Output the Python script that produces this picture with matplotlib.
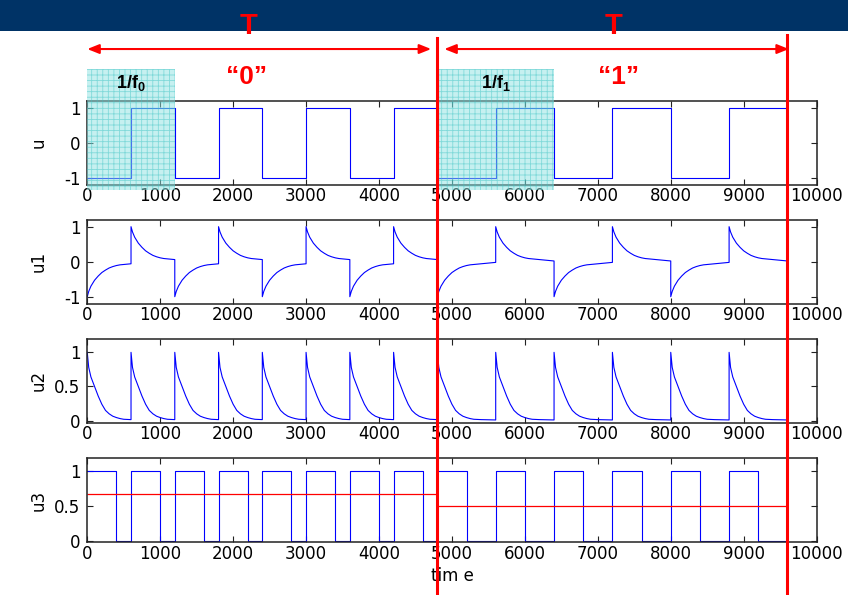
"""FSK bit encoding: square wave u and derived signals u1, u2, u3."""

import matplotlib

matplotlib.use("Agg")
import matplotlib.pyplot as plt
import numpy as np
from matplotlib.lines import Line2D
from matplotlib.patches import Rectangle
from matplotlib.transforms import blended_transform_factory

# square wave u: edge times and level after each edge
edges = [0, 600, 1200, 1800, 2400, 3000, 3600, 4200, 4800, 5600, 6400, 7200, 8000, 8800]
levels = [-1, 1, -1, 1, -1, 1, -1, 1, -1, 1, -1, 1, -1, 1]
t_end = 9600

# decay shape after each edge
decay_dt = [0, 20, 50, 100, 150, 200, 250, 300, 350, 400, 450, 500, 600, 700, 800]
u1_decay = [1.0, 0.85, 0.70, 0.53, 0.41, 0.31, 0.24, 0.18, 0.14, 0.11, 0.09, 0.08, 0.06, 0.04, 0.02]
u2_decay = [1.0, 0.78, 0.64, 0.50, 0.36, 0.24, 0.15, 0.10, 0.065, 0.045, 0.03, 0.02, 0.015, 0.012, 0.01]

# pulse train u3 (steps) and its mean per bit
u3_t = [0, 400, 600, 1000, 1200, 1600, 1800, 2200, 2400, 2800, 3000, 3400, 3600, 4000,
        4200, 4600, 4800, 5200, 5600, 6000, 6400, 6800, 7200, 7600, 8000, 8400, 8800,
        9200, 9600]
u3_v = [1, 0, 1, 0, 1, 0, 1, 0, 1, 0, 1, 0, 1, 0,
        1, 0, 1, 0, 1, 0, 1, 0, 1, 0, 1, 0, 1,
        0, 0]
u3_mean = [0.667, 0.5]

bit_edges = [0, 4800, 9600]
bit_labels = ["\u201c0\u201d", "\u201c1\u201d"]
period_len = [1200, 1600]
period_labels = [r"$\mathbf{1/f_0}$", r"$\mathbf{1/f_1}$"]


def edge_response(decay, signed):
    t_all, v_all = [], []
    for i, e in enumerate(edges):
        nxt = edges[i + 1] if i + 1 < len(edges) else t_end
        sign = levels[i] if signed else 1
        for dt, d in zip(decay_dt, decay):
            if dt <= nxt - e:
                t_all.append(e + dt)
                v_all.append(sign * d)
    return np.array(t_all), np.array(v_all)


t1, u1 = edge_response(u1_decay, signed=True)
t2, u2 = edge_response(u2_decay, signed=False)

plt.rcParams["font.family"] = "DejaVu Sans"
plt.rcParams["mathtext.fontset"] = "custom"
plt.rcParams["mathtext.bf"] = "Liberation Sans:bold"
plt.rcParams["mathtext.rm"] = "Liberation Sans"
plt.rcParams["mathtext.it"] = "Liberation Sans:italic"
plt.rcParams["hatch.linewidth"] = 0.6

fig = plt.figure(figsize=(8.48, 5.95), dpi=100)
bottoms = [0.6896, 0.4896, 0.2896, 0.0886]
axes = [fig.add_axes([0.1029, b, 0.8601, 0.1412]) for b in bottoms]
blue = "#0000ff"

axes[0].step(edges + [t_end], levels + [levels[-1]], where="post", color=blue, lw=0.8)
axes[1].plot(t1, u1, color=blue, lw=0.8)
axes[2].plot(t2, u2, color=blue, lw=0.8)
axes[3].step(u3_t, u3_v, where="post", color=blue, lw=0.8)
for i, m in enumerate(u3_mean):
    axes[3].hlines(m, bit_edges[i], bit_edges[i + 1], color="red", lw=0.9)

names = ["u", "u1", "u2", "u3"]
ylims = [(-1.2, 1.2), (-1.2, 1.2), (-0.03, 1.2), (-0.015, 1.18)]
yticks = [[-1, 0, 1], [-1, 0, 1], [0, 0.5, 1], [0, 0.5, 1]]
for ax, name, yl, yt in zip(axes, names, ylims, yticks):
    ax.set_xlim(0, 10000)
    ax.set_ylim(*yl)
    ax.set_xticks(np.arange(0, 10001, 1000))
    ax.set_yticks(yt)
    ax.set_yticklabels([f"{v:g}" for v in yt])
    ax.tick_params(direction="in", top=True, right=True, length=4, width=0.8,
                   labelsize=12, color="#222222")
    ax.tick_params(axis="x", pad=2)
    ax.tick_params(axis="y", pad=5)
    for sp in ax.spines.values():
        sp.set_linewidth(1.1)
        sp.set_color("#222222")
    ax.set_ylabel(name, fontsize=12)
    ax.yaxis.set_label_coords(-0.055, 0.5)
axes[3].set_xlabel("tim e", fontsize=12, labelpad=3)

trans = blended_transform_factory(axes[0].transData, fig.transFigure)

# title banner
fig.add_artist(Rectangle((0, 0.948), 1, 0.052, transform=fig.transFigure,
                         facecolor="#003366", edgecolor="none", zorder=0))

# shaded single periods
for i in range(2):
    fig.add_artist(Rectangle((bit_edges[i], 0.681), period_len[i], 0.203, transform=trans,
                             facecolor="#8fe3e3", edgecolor="#3cc4c4", hatch="+++",
                             lw=0, alpha=0.5, zorder=1))
    fig.text(bit_edges[i] + period_len[i] / 2, 0.8605, period_labels[i], transform=trans,
             ha="center", va="center", fontsize=13, color="black", zorder=5)

# bit boundaries
for x, y0 in zip(bit_edges[1:], [0.936, 0.941]):
    fig.add_artist(Line2D([x, x], [y0, 0], transform=trans, color="red", lw=2.2, zorder=4))

# T arrows
for (x0, x1) in [(0, 4715), (4895, 9620)]:
    axes[0].annotate("", xy=(x1, 0.9176), xytext=(x0, 0.9176), xycoords=trans,
                     textcoords=trans, annotation_clip=False,
                     arrowprops=dict(arrowstyle="<|-|>,head_length=0.7,head_width=0.28",
                                     color="red", lw=1.5, shrinkA=0, shrinkB=0))
for x in [2210, 7210]:
    fig.text(x, 0.957, "T", transform=trans, ha="center", va="center", fontsize=21,
             color="red", family="Liberation Sans", weight="bold", zorder=6)
for x, lab in zip([2190, 7280], bit_labels):
    fig.text(x, 0.8706, lab, transform=trans, ha="center", va="center", fontsize=19,
             color="red", family="Liberation Sans", weight="bold", zorder=6)

fig.savefig("out.png", dpi=100)
